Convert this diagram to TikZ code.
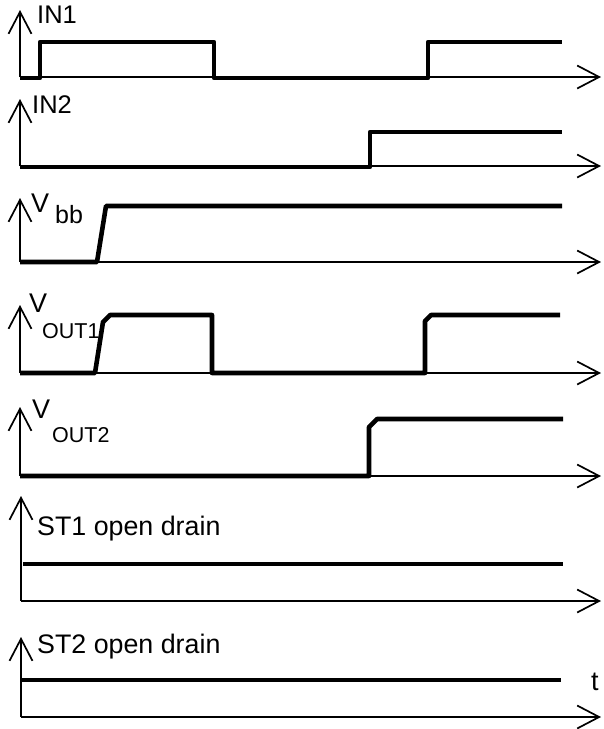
\documentclass[tikz,border=0pt]{standalone}
\usepackage{fontspec}
\setmainfont{Liberation Sans}
\usetikzlibrary{arrows.meta}
\begin{document}
\begin{tikzpicture}[x=1pt,y=-1pt,
  axisline/.style={line width=1.7pt,-{Straight Barb[length=22pt,width=23pt,line width=1.7pt]}},
  sigline/.style={line width=4.6pt,line join=round},
  lbl/.style={anchor=base west,inner sep=0pt,font=\fontsize{25.5}{30}\selectfont},
  vlbl/.style={anchor=base west,inner sep=0pt,font=\fontsize{27}{30}\selectfont},
  sublbl/.style={anchor=base west,inner sep=0pt,font=\fontsize{21.5}{25}\selectfont},
  bblbl/.style={anchor=base west,inner sep=0pt,font=\fontsize{25}{25}\selectfont},
  stlbl/.style={anchor=base west,inner sep=0pt,font=\fontsize{26.8}{30}\selectfont}]
\useasboundingbox (0,0) rectangle (604,729);
% signals
\draw[sigline] (20,78) -- (40,78) -- (40,42) -- (214,42) -- (214,78) -- (428,78) -- (428,42) -- (562,42);
\draw[sigline] (20,167) -- (370,167) -- (370,132) -- (562,132);
\draw[sigline] (20,262) -- (97,262) -- (106,206) -- (562,206);
\draw[sigline] (20,373) -- (95,373) -- (103,322) -- (110,315) -- (212,315) -- (212,373) -- (425,373) -- (425,321) -- (431,315) -- (560,315);
\draw[sigline] (20,476) -- (369,476) -- (369,427) -- (377,419) -- (563,419);
\draw[sigline] (23,564) -- (563,564);
\draw[sigline] (22,680) -- (561,680);
% axes
\foreach \x/\yb/\ya in {20/77/10, 20/166/99, 20/262/198, 20/373/305, 20/476/407, 21/601/496, 21/717/637}{
  \draw[axisline] (\x,\yb) -- (\x,\ya);
  \draw[axisline] (\x,\yb) -- (601,\yb);
}
% labels
\node[lbl] (in1) at (37,23) {IN1};
\node[lbl] (in2) at (32,113) {IN2};
\node[vlbl] (vbb) at (31,212) {V};
\node[bblbl] (bb) at (55,223) {bb};
\node[vlbl] (vo1) at (29,312) {V};
\node[sublbl] (o1) at (42,338) {OUT1};
\node[vlbl] (vo2) at (32,418) {V};
\node[sublbl] (o2) at (52,442) {OUT2};
\node[stlbl] (st1) at (37,535) {ST1 open drain};
\node[stlbl] (st2) at (37,653) {ST2 open drain};
\node[vlbl] (t) at (591,690) {t};
\end{tikzpicture}
\end{document}
